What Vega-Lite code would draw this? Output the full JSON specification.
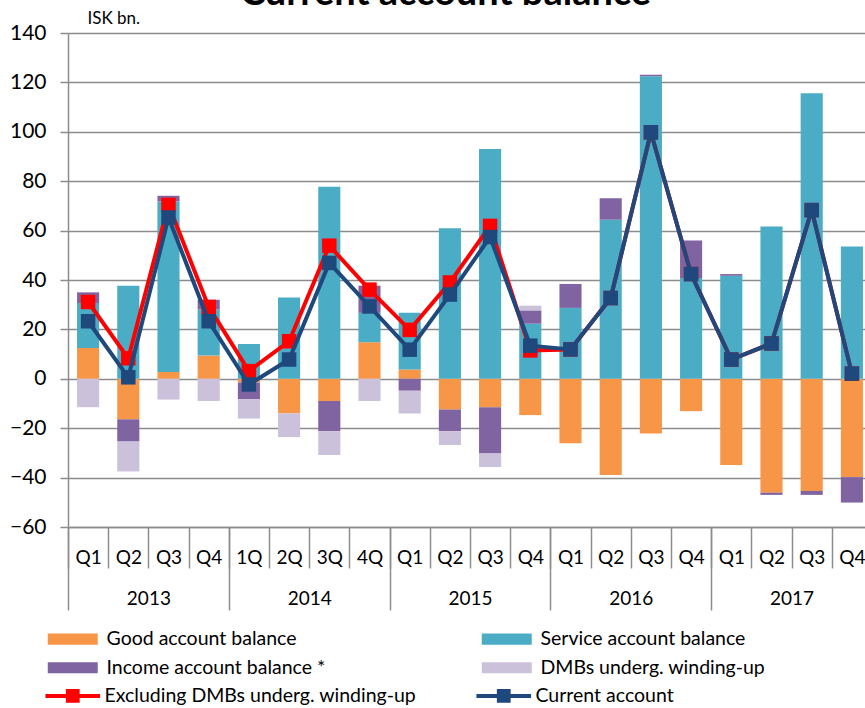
{
  "$schema": "https://vega.github.io/schema/vega-lite/v6.json",
  "width": 797,
  "height": 494,
  "autosize": {"type": "none"},
  "padding": {"left": 68, "top": 33, "right": 0, "bottom": 181},
  "background": "white",
  "title": {"text": "Current account balance", "fontSize": 38, "font": "Lato", "fontWeight": "bold", "anchor": "middle", "frame": "group", "dx": -21, "dy": 37, "offset": 3, "baseline": "alphabetic", "color": "#000000"},
  "config": {
    "view": {"stroke": null},
    "font": "Lato",
    "axis": {"gridColor": "#8c8c8c", "gridWidth": 1.5, "gridOpacity": 1, "domainColor": "#8c8c8c", "domainWidth": 1.5, "tickColor": "#8c8c8c", "tickWidth": 1.5, "labelFont": "Lato", "labelFontSize": 19, "labelColor": "#000000", "titleFont": "Lato", "titleColor": "#000000"}
  },
  "datasets": {
    "bars": [
      {"period": "2013-Q1", "series": "Good account balance", "order": 1, "value": 12.5},
      {"period": "2013-Q1", "series": "Service account balance", "order": 2, "value": 18.2},
      {"period": "2013-Q1", "series": "Income account balance *", "order": 3, "value": 4.3},
      {"period": "2013-Q1", "series": "DMBs underg. winding-up", "order": 4, "value": -11.5},
      {"period": "2013-Q2", "series": "Good account balance", "order": 1, "value": -16.4},
      {"period": "2013-Q2", "series": "Service account balance", "order": 2, "value": 37.7},
      {"period": "2013-Q2", "series": "Income account balance *", "order": 3, "value": -9.0},
      {"period": "2013-Q2", "series": "DMBs underg. winding-up", "order": 4, "value": -12.1},
      {"period": "2013-Q3", "series": "Good account balance", "order": 1, "value": 2.8},
      {"period": "2013-Q3", "series": "Service account balance", "order": 2, "value": 69.0},
      {"period": "2013-Q3", "series": "Income account balance *", "order": 3, "value": 2.3},
      {"period": "2013-Q3", "series": "DMBs underg. winding-up", "order": 4, "value": -8.4},
      {"period": "2013-Q4", "series": "Good account balance", "order": 1, "value": 9.4},
      {"period": "2013-Q4", "series": "Service account balance", "order": 2, "value": 18.6},
      {"period": "2013-Q4", "series": "Income account balance *", "order": 3, "value": 4.0},
      {"period": "2013-Q4", "series": "DMBs underg. winding-up", "order": 4, "value": -9.0},
      {"period": "2014-1Q", "series": "Good account balance", "order": 1, "value": -1.5},
      {"period": "2014-1Q", "series": "Service account balance", "order": 2, "value": 14.1},
      {"period": "2014-1Q", "series": "Income account balance *", "order": 3, "value": -6.8},
      {"period": "2014-1Q", "series": "DMBs underg. winding-up", "order": 4, "value": -7.8},
      {"period": "2014-2Q", "series": "Good account balance", "order": 1, "value": -14.0},
      {"period": "2014-2Q", "series": "Service account balance", "order": 2, "value": 32.9},
      {"period": "2014-2Q", "series": "Income account balance *", "order": 3, "value": 0.0},
      {"period": "2014-2Q", "series": "DMBs underg. winding-up", "order": 4, "value": -9.6},
      {"period": "2014-3Q", "series": "Good account balance", "order": 1, "value": -9.0},
      {"period": "2014-3Q", "series": "Service account balance", "order": 2, "value": 77.8},
      {"period": "2014-3Q", "series": "Income account balance *", "order": 3, "value": -12.2},
      {"period": "2014-3Q", "series": "DMBs underg. winding-up", "order": 4, "value": -9.7},
      {"period": "2014-4Q", "series": "Good account balance", "order": 1, "value": 14.8},
      {"period": "2014-4Q", "series": "Service account balance", "order": 2, "value": 11.9},
      {"period": "2014-4Q", "series": "Income account balance *", "order": 3, "value": 11.0},
      {"period": "2014-4Q", "series": "DMBs underg. winding-up", "order": 4, "value": -9.0},
      {"period": "2015-Q1", "series": "Good account balance", "order": 1, "value": 3.8},
      {"period": "2015-Q1", "series": "Service account balance", "order": 2, "value": 22.9},
      {"period": "2015-Q1", "series": "Income account balance *", "order": 3, "value": -4.8},
      {"period": "2015-Q1", "series": "DMBs underg. winding-up", "order": 4, "value": -9.2},
      {"period": "2015-Q2", "series": "Good account balance", "order": 1, "value": -12.4},
      {"period": "2015-Q2", "series": "Service account balance", "order": 2, "value": 61.0},
      {"period": "2015-Q2", "series": "Income account balance *", "order": 3, "value": -8.8},
      {"period": "2015-Q2", "series": "DMBs underg. winding-up", "order": 4, "value": -5.6},
      {"period": "2015-Q3", "series": "Good account balance", "order": 1, "value": -11.5},
      {"period": "2015-Q3", "series": "Service account balance", "order": 2, "value": 93.0},
      {"period": "2015-Q3", "series": "Income account balance *", "order": 3, "value": -18.7},
      {"period": "2015-Q3", "series": "DMBs underg. winding-up", "order": 4, "value": -5.5},
      {"period": "2015-Q4", "series": "Good account balance", "order": 1, "value": -14.7},
      {"period": "2015-Q4", "series": "Service account balance", "order": 2, "value": 22.3},
      {"period": "2015-Q4", "series": "Income account balance *", "order": 3, "value": 5.4},
      {"period": "2015-Q4", "series": "DMBs underg. winding-up", "order": 4, "value": 1.9},
      {"period": "2016-Q1", "series": "Good account balance", "order": 1, "value": -26.1},
      {"period": "2016-Q1", "series": "Service account balance", "order": 2, "value": 28.7},
      {"period": "2016-Q1", "series": "Income account balance *", "order": 3, "value": 9.7},
      {"period": "2016-Q1", "series": "DMBs underg. winding-up", "order": 4, "value": 0},
      {"period": "2016-Q2", "series": "Good account balance", "order": 1, "value": -38.9},
      {"period": "2016-Q2", "series": "Service account balance", "order": 2, "value": 64.4},
      {"period": "2016-Q2", "series": "Income account balance *", "order": 3, "value": 8.7},
      {"period": "2016-Q2", "series": "DMBs underg. winding-up", "order": 4, "value": 0},
      {"period": "2016-Q3", "series": "Good account balance", "order": 1, "value": -22.1},
      {"period": "2016-Q3", "series": "Service account balance", "order": 2, "value": 122.5},
      {"period": "2016-Q3", "series": "Income account balance *", "order": 3, "value": 0.6},
      {"period": "2016-Q3", "series": "DMBs underg. winding-up", "order": 4, "value": 0},
      {"period": "2016-Q4", "series": "Good account balance", "order": 1, "value": -13.1},
      {"period": "2016-Q4", "series": "Service account balance", "order": 2, "value": 40.8},
      {"period": "2016-Q4", "series": "Income account balance *", "order": 3, "value": 15.2},
      {"period": "2016-Q4", "series": "DMBs underg. winding-up", "order": 4, "value": 0},
      {"period": "2017-Q1", "series": "Good account balance", "order": 1, "value": -34.9},
      {"period": "2017-Q1", "series": "Service account balance", "order": 2, "value": 41.7},
      {"period": "2017-Q1", "series": "Income account balance *", "order": 3, "value": 0.7},
      {"period": "2017-Q1", "series": "DMBs underg. winding-up", "order": 4, "value": 0},
      {"period": "2017-Q2", "series": "Good account balance", "order": 1, "value": -46.1},
      {"period": "2017-Q2", "series": "Service account balance", "order": 2, "value": 61.7},
      {"period": "2017-Q2", "series": "Income account balance *", "order": 3, "value": -0.9},
      {"period": "2017-Q2", "series": "DMBs underg. winding-up", "order": 4, "value": 0},
      {"period": "2017-Q3", "series": "Good account balance", "order": 1, "value": -45.4},
      {"period": "2017-Q3", "series": "Service account balance", "order": 2, "value": 115.6},
      {"period": "2017-Q3", "series": "Income account balance *", "order": 3, "value": -1.6},
      {"period": "2017-Q3", "series": "DMBs underg. winding-up", "order": 4, "value": 0},
      {"period": "2017-Q4", "series": "Good account balance", "order": 1, "value": -39.8},
      {"period": "2017-Q4", "series": "Service account balance", "order": 2, "value": 53.6},
      {"period": "2017-Q4", "series": "Income account balance *", "order": 3, "value": -10.3},
      {"period": "2017-Q4", "series": "DMBs underg. winding-up", "order": 4, "value": 0}
    ],
    "lines": [
      {"period": "2013-Q1", "series": "Excluding DMBs underg. winding-up", "value": 31.1},
      {"period": "2013-Q2", "series": "Excluding DMBs underg. winding-up", "value": 8.3},
      {"period": "2013-Q3", "series": "Excluding DMBs underg. winding-up", "value": 70.4},
      {"period": "2013-Q4", "series": "Excluding DMBs underg. winding-up", "value": 29.1},
      {"period": "2014-1Q", "series": "Excluding DMBs underg. winding-up", "value": 3.1},
      {"period": "2014-2Q", "series": "Excluding DMBs underg. winding-up", "value": 15.2},
      {"period": "2014-3Q", "series": "Excluding DMBs underg. winding-up", "value": 53.9},
      {"period": "2014-4Q", "series": "Excluding DMBs underg. winding-up", "value": 36.1},
      {"period": "2015-Q1", "series": "Excluding DMBs underg. winding-up", "value": 19.8},
      {"period": "2015-Q2", "series": "Excluding DMBs underg. winding-up", "value": 39.0},
      {"period": "2015-Q3", "series": "Excluding DMBs underg. winding-up", "value": 61.9},
      {"period": "2015-Q4", "series": "Excluding DMBs underg. winding-up", "value": 11.5},
      {"period": "2016-Q1", "series": "Excluding DMBs underg. winding-up", "value": 11.9},
      {"period": "2016-Q2", "series": "Excluding DMBs underg. winding-up", "value": 32.7},
      {"period": "2016-Q3", "series": "Excluding DMBs underg. winding-up", "value": 99.8},
      {"period": "2016-Q4", "series": "Excluding DMBs underg. winding-up", "value": 42.4},
      {"period": "2017-Q1", "series": "Excluding DMBs underg. winding-up", "value": 7.8},
      {"period": "2017-Q2", "series": "Excluding DMBs underg. winding-up", "value": 14.3},
      {"period": "2017-Q3", "series": "Excluding DMBs underg. winding-up", "value": 68.3},
      {"period": "2017-Q4", "series": "Excluding DMBs underg. winding-up", "value": 2.1},
      {"period": "2013-Q1", "series": "Current account", "value": 23.3},
      {"period": "2013-Q2", "series": "Current account", "value": 0.6},
      {"period": "2013-Q3", "series": "Current account", "value": 65.3},
      {"period": "2013-Q4", "series": "Current account", "value": 23.3},
      {"period": "2014-1Q", "series": "Current account", "value": -2.3},
      {"period": "2014-2Q", "series": "Current account", "value": 7.8},
      {"period": "2014-3Q", "series": "Current account", "value": 46.9},
      {"period": "2014-4Q", "series": "Current account", "value": 29.3},
      {"period": "2015-Q1", "series": "Current account", "value": 11.8},
      {"period": "2015-Q2", "series": "Current account", "value": 34.1},
      {"period": "2015-Q3", "series": "Current account", "value": 57.4},
      {"period": "2015-Q4", "series": "Current account", "value": 13.4},
      {"period": "2016-Q1", "series": "Current account", "value": 11.9},
      {"period": "2016-Q2", "series": "Current account", "value": 32.7},
      {"period": "2016-Q3", "series": "Current account", "value": 99.8},
      {"period": "2016-Q4", "series": "Current account", "value": 42.4},
      {"period": "2017-Q1", "series": "Current account", "value": 7.8},
      {"period": "2017-Q2", "series": "Current account", "value": 14.3},
      {"period": "2017-Q3", "series": "Current account", "value": 68.3},
      {"period": "2017-Q4", "series": "Current account", "value": 2.1}
    ],
    "years": [
      {"year": "2013"}, {"year": "2014"}, {"year": "2015"}, {"year": "2016"}, {"year": "2017"}
    ]
  },
  "layer": [
    {
      "encoding": {
        "x": {"field": "period", "type": "ordinal", "scale": {"range": [0, 804], "paddingInner": 0, "paddingOuter": 0},
          "axis": {"title": null, "labelExpr": "split(datum.label, '-')[1]", "tickBand": "extent", "tickSize": 41, "labelAngle": 0, "labelBaseline": "middle", "labelPadding": -11, "grid": false, "domain": true}}
      },
      "layer": [
        {
          "data": {"name": "bars"},
          "mark": {"type": "bar", "width": {"band": 0.55}},
          "encoding": {
            "y": {"field": "value", "type": "quantitative", "stack": "zero", "scale": {"domain": [-60, 140], "nice": false},
              "axis": {"title": "ISK bn.", "values": [-60, -40, -20, 0, 20, 40, 60, 80, 100, 120, 140], "grid": true, "tickSize": 8, "labelPadding": 14, "labelFontSize": 21, "titleAngle": 0, "titleAlign": "left", "titleBaseline": "alphabetic", "titleX": 19, "titleY": -10, "titleFontSize": 17, "titleFontWeight": "normal"}},
            "color": {"field": "series", "type": "nominal",
              "scale": {"domain": ["Good account balance", "Service account balance", "Income account balance *", "DMBs underg. winding-up"], "range": ["#F79646", "#4BACC6", "#8064A2", "#CCC1DA"]},
              "legend": {"orient": "none", "direction": "horizontal", "legendX": -5, "legendY": 596, "columns": 2, "title": null, "symbolType": "M-3.57,-0.8H3.57V0.8H-3.57Z", "symbolSize": 196, "symbolStrokeWidth": 0, "symbolOpacity": 1, "labelFontSize": 19.5, "labelFont": "Lato", "labelColor": "#000000", "labelOffset": 24, "columnPadding": 155, "rowPadding": 8, "labelLimit": 400}},
            "order": {"field": "order", "type": "quantitative"}
          }
        },
        {
          "layer": [
            {
              "data": {"name": "lines"},
              "transform": [{"filter": "datum.series === 'Excluding DMBs underg. winding-up'"}],
              "mark": {"type": "line", "strokeWidth": 4, "point": {"shape": "square", "size": 210, "filled": true}},
              "encoding": {
                "y": {"field": "value", "type": "quantitative", "title": "ISK bn."},
                "color": {"field": "series", "type": "nominal",
                  "scale": {"domain": ["Excluding DMBs underg. winding-up", "Current account"], "range": ["#FF0000", "#1F497D"]},
                  "legend": {"orient": "none", "direction": "horizontal", "legendX": -5, "legendY": 653, "columns": 2, "title": null, "symbolType": "M-3.9,0H3.9M-0.7,-0.7H0.7V0.7H-0.7Z", "symbolSize": 196, "symbolStrokeWidth": 4, "labelFontSize": 19.5, "labelFont": "Lato", "labelColor": "#000000", "labelOffset": 22, "columnPadding": 51, "labelLimit": 400,
                    "encode": {"symbols": {"update": {"fill": {"signal": "datum.value === 'Current account' ? '#1F497D' : '#FF0000'"}, "stroke": {"signal": "datum.value === 'Current account' ? '#1F497D' : '#FF0000'"}}}}}
                }
              }
            },
            {
              "data": {"name": "lines"},
              "transform": [{"filter": "datum.series === 'Current account'"}],
              "mark": {"type": "line", "strokeWidth": 4, "point": {"shape": "square", "size": 210, "filled": true}},
              "encoding": {
                "y": {"field": "value", "type": "quantitative", "title": "ISK bn."},
                "color": {"field": "series", "type": "nominal"}
              }
            }
          ]
        }
      ],
      "resolve": {"scale": {"color": "independent"}}
    },
    {
      "data": {"name": "years"},
      "mark": {"type": "bar", "opacity": 0},
      "encoding": {
        "x": {"field": "year", "type": "ordinal", "scale": {"range": [0, 804], "paddingInner": 0, "paddingOuter": 0},
          "axis": {"orient": "bottom", "title": null, "tickBand": "extent", "tickSize": 83, "labelAngle": 0, "labelBaseline": "middle", "labelPadding": -12, "domain": false, "grid": false}}
      }
    }
  ],
  "resolve": {"scale": {"x": "independent"}}
}
